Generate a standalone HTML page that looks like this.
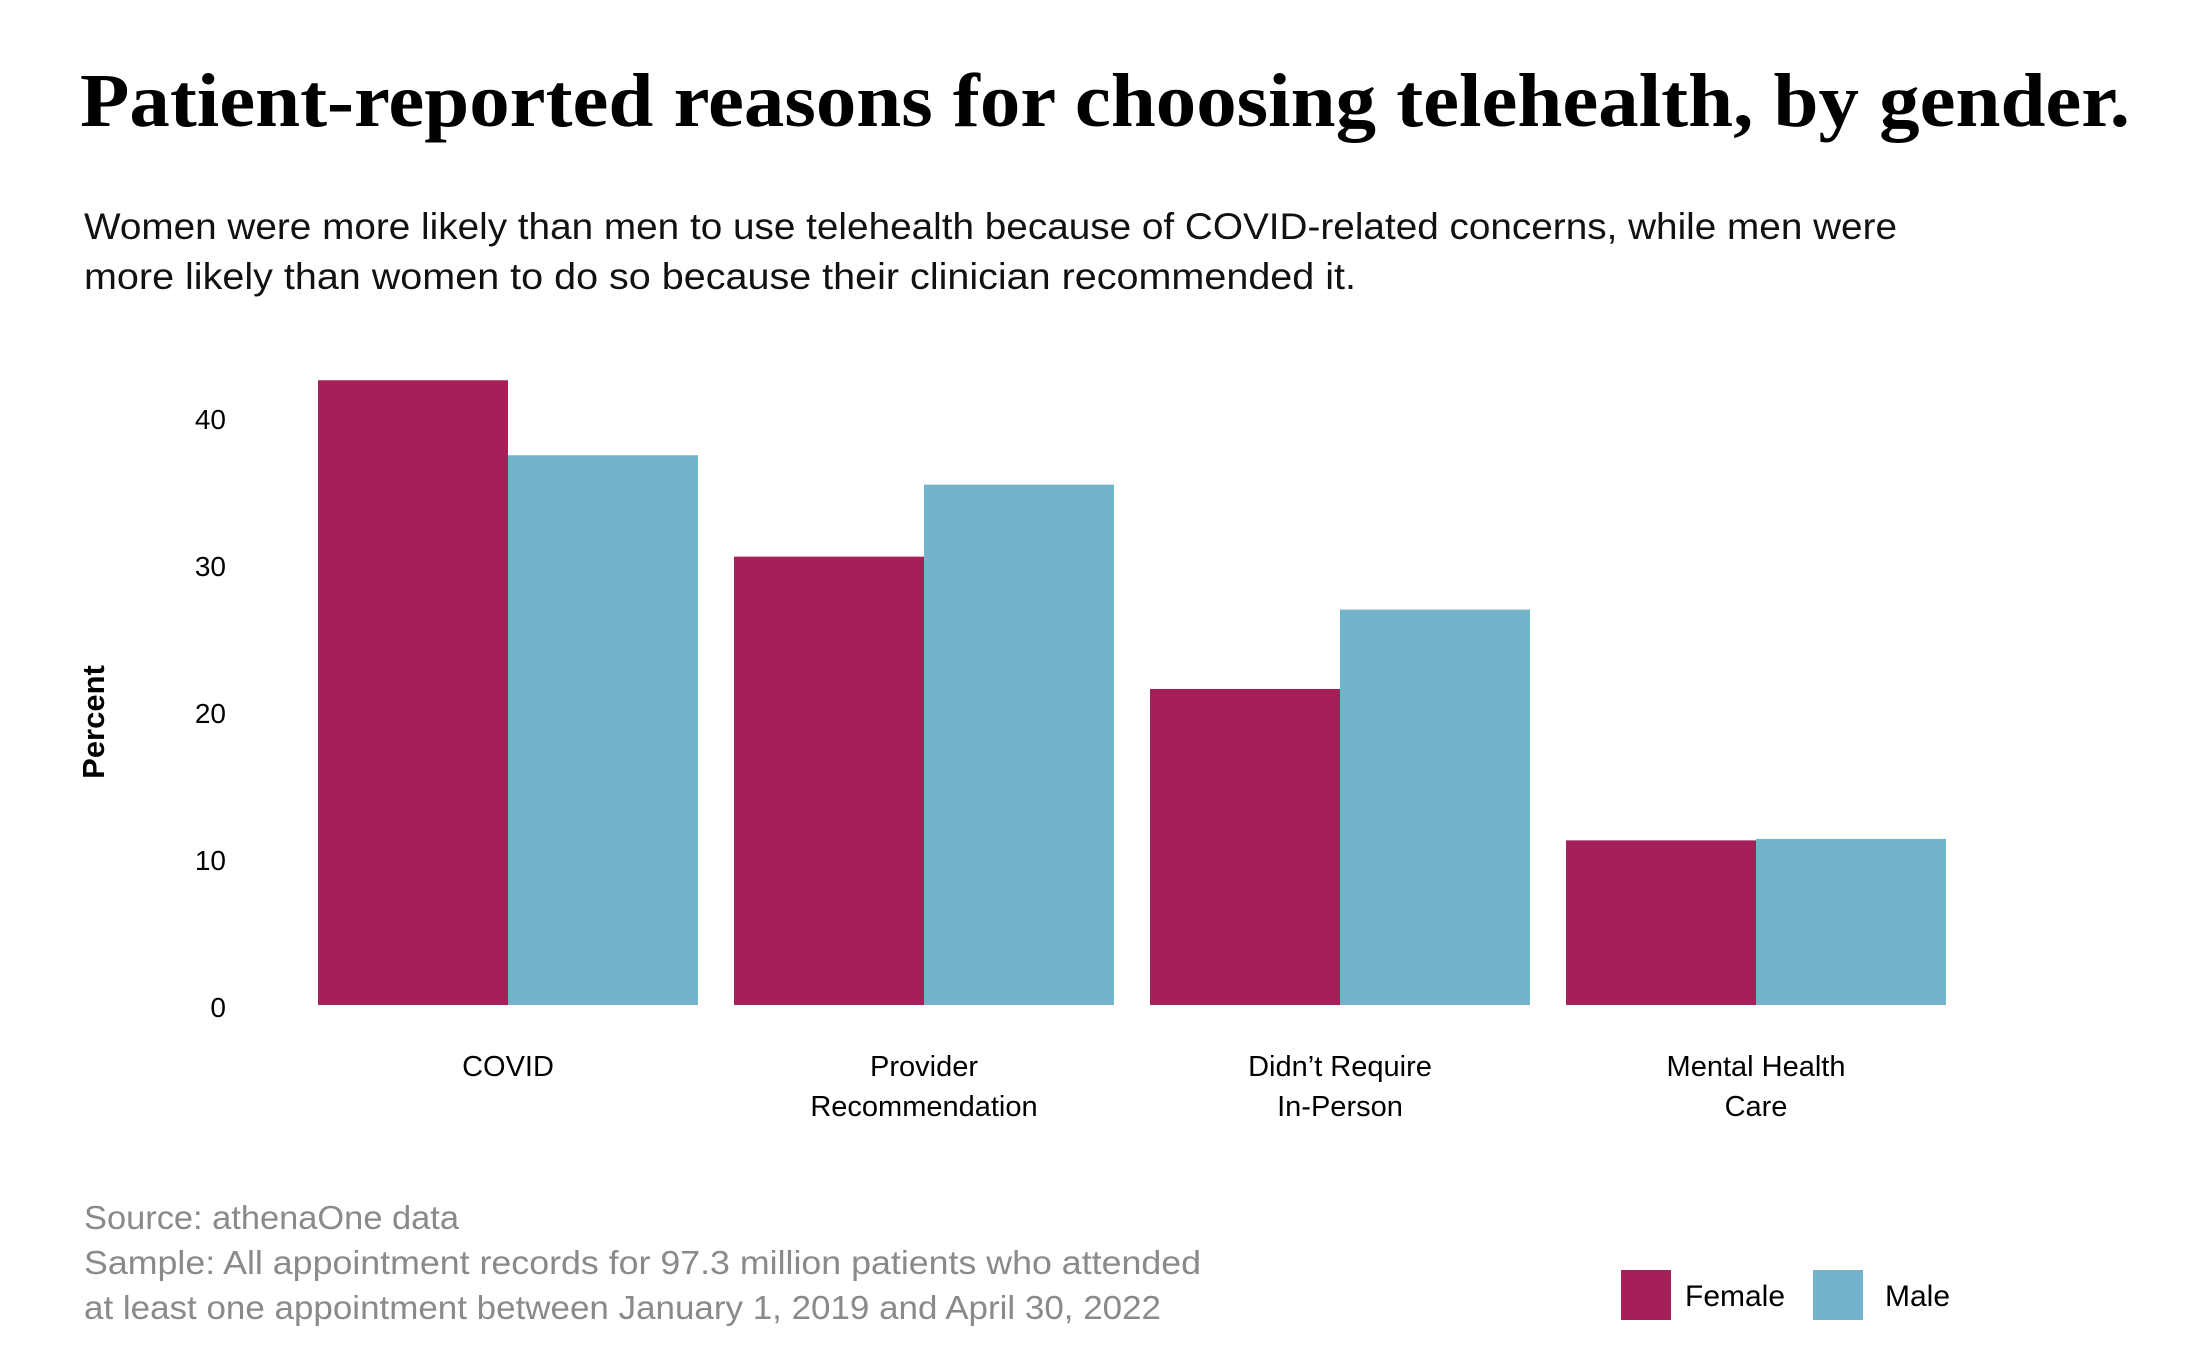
<!DOCTYPE html>
<html><head><meta charset="utf-8"><style>
html,body{margin:0;padding:0;background:#fff;}
svg{display:block;}
text{font-family:"Liberation Sans",sans-serif;}
</style></head><body>
<svg id="chart" width="2209" height="1362" viewBox="0 0 2209 1362">
<text x="80" y="126" font-family="Liberation Serif, serif" font-weight="bold" font-size="76" fill="#000" textLength="2050" lengthAdjust="spacingAndGlyphs" style="font-family:'Liberation Serif',serif">Patient-reported reasons for choosing telehealth, by gender.</text>
<text x="84" y="239" font-size="37" fill="#111" textLength="1813" lengthAdjust="spacingAndGlyphs">Women were more likely than men to use telehealth because of COVID-related concerns, while men were</text>
<text x="84" y="289" font-size="37" fill="#111" textLength="1272" lengthAdjust="spacingAndGlyphs">more likely than women to do so because their clinician recommended it.</text>
<text transform="translate(104,722) rotate(-90)" text-anchor="middle" font-size="31" font-weight="bold" fill="#000">Percent</text>
<g id="yticks"></g>
<g id="bars"></g>
<g id="xlabels"></g>
<text x="84" y="1229" font-size="33" fill="#8a8a8a" textLength="375" lengthAdjust="spacingAndGlyphs">Source: athenaOne data</text>
<text x="84" y="1274" font-size="33" fill="#8a8a8a" textLength="1117" lengthAdjust="spacingAndGlyphs">Sample: All appointment records for 97.3 million patients who attended</text>
<text x="84" y="1319" font-size="33" fill="#8a8a8a" textLength="1077" lengthAdjust="spacingAndGlyphs">at least one appointment between January 1, 2019 and April 30, 2022</text>
<g>
<rect x="1621" y="1270" width="50" height="50" fill="#A52058"/>
<text x="1685" y="1306" font-size="30" fill="#000">Female</text>
<rect x="1813" y="1270" width="50" height="50" fill="#73B4CB"/>
<text x="1885" y="1306" font-size="30" fill="#000">Male</text>
</g>
</svg>
<script>
const categories = [["COVID"], ["Provider", "Recommendation"], ["Didn\u2019t Require", "In-Person"], ["Mental Health", "Care"]];
const femaleValues = [42.5, 30.5, 21.5, 11.2];
const maleValues = [37.4, 35.4, 26.9, 11.3];
const yTicks = [0, 10, 20, 30, 40];

const NS = "http://www.w3.org/2000/svg";
const y0 = 1005, pxPerUnit = 14.7;
function yScale(v){ return y0 - v * pxPerUnit; }
const groupStart = 318, groupStep = 416, barW = 190;
function xGroup(i){ return groupStart + i * groupStep; }

const yt = document.getElementById('yticks');
yTicks.forEach(t => {
  const el = document.createElementNS(NS, 'text');
  
  
  el.setAttribute('x', 226);
  el.setAttribute('y', yScale(t) + 12);
  el.setAttribute('text-anchor', 'end');
  el.setAttribute('font-size', '28');
  el.setAttribute('fill', '#000');
  el.textContent = t;
  yt.appendChild(el);
});

const bars = document.getElementById('bars');
const xl = document.getElementById('xlabels');
categories.forEach((c, i) => {
  const gx = xGroup(i);
  const f = document.createElementNS(NS, 'rect');
  
  
  f.setAttribute('x', gx);
  f.setAttribute('y', yScale(femaleValues[i]));
  f.setAttribute('width', barW);
  f.setAttribute('height', y0 - yScale(femaleValues[i]));
  f.setAttribute('fill', '#A52058');
  bars.appendChild(f);
  const m = document.createElementNS(NS, 'rect');
  
  
  m.setAttribute('x', gx + barW);
  m.setAttribute('y', yScale(maleValues[i]));
  m.setAttribute('width', barW);
  m.setAttribute('height', y0 - yScale(maleValues[i]));
  m.setAttribute('fill', '#73B4CB');
  bars.appendChild(m);
  c.forEach((line, j) => {
    const t = document.createElementNS(NS, 'text');
    
    
    t.setAttribute('x', gx + barW);
    t.setAttribute('y', 1076 + j * 40);
    t.setAttribute('text-anchor', 'middle');
    t.setAttribute('font-size', '29');
    t.setAttribute('fill', '#000');
    t.textContent = line;
    xl.appendChild(t);
  });
});
</script>
</body></html>
